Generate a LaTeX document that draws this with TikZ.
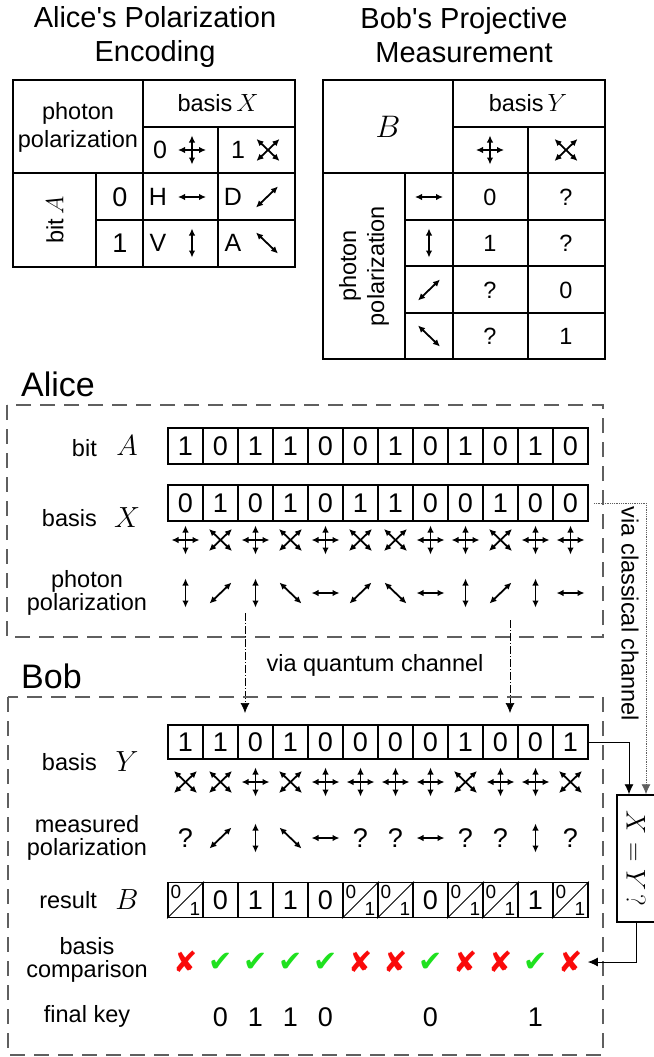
\documentclass[tikz,border=0pt]{standalone}
\usepackage{fontspec}
\setmainfont{Liberation Sans}
\newfontfamily\dingfont{DejaVu Sans}
\usetikzlibrary{arrows.meta}
\definecolor{okgreen}{RGB}{30,225,30}
\definecolor{nored}{RGB}{250,10,10}
\definecolor{framegray}{RGB}{95,95,95}
\newcommand\yesmark{\textcolor{okgreen}{✔}}
\newcommand\nomark{\textcolor{nored}{✘}}

\begin{document}
\begin{tikzpicture}[x=1pt, y=-1pt,
	every node/.style={font=\fontsize{23.5}{23}\selectfont, inner sep=0pt},
	tab/.style={line width=1.6pt},
	tabtxt/.style={align=center, font=\fontsize{23.5}{28}\selectfont},
	val/.style={font=\fontsize{25}{25}\selectfont},
	big/.style={font=\fontsize{27}{27}\selectfont},
	cell/.style={draw, line width=1.8pt, minimum width=35pt, minimum height=36pt, big},
	mth/.style={font=\fontsize{24.88}{25}\selectfont, scale=1.17},
	lbl/.style={align=center},
	title/.style={align=center, font=\fontsize{29}{34}\selectfont},
	party/.style={anchor=west, font=\fontsize{34}{34}\selectfont},
	small/.style={font=\fontsize{19}{19}\selectfont},
	cmp/.style={font=\dingfont\fontsize{29}{29}\selectfont},
	frame/.style={framegray, line width=1.2pt, dash pattern=on 15pt off 9pt},
	pol/.style={line width=1.8pt, {Latex[length=7pt,width=6.5pt]}-{Latex[length=7pt,width=6.5pt]}},
	hp/.pic={\draw[pol] (-14,0) -- (14,0);},
	vp/.pic={\draw[pol] (0,-14.5) -- (0,14.5);},
	dp/.pic={\draw[pol] (-11,10.5) -- (11,-10.5);},
	ap/.pic={\draw[pol] (-11,-10.5) -- (11,10.5);},
	rb/.pic={\draw[pol] (-14,0) -- (14,0); \draw[pol] (0,-14.5) -- (0,14.5);},
	db/.pic={\draw[pol] (-11.5,11) -- (11.5,-11); \draw[pol] (-11.5,-11) -- (11.5,11);},
	qp/.pic={\node[big] {?};},
	quantum/.style={-{Latex[length=10pt,width=9pt]}, line width=0.7pt, dash pattern=on 8pt off 2pt on 1pt off 2pt},
	classical/.style={-{Latex[length=10pt,width=9pt]}, line width=0.8pt, densely dotted, framegray},
	link/.style={-{Latex[length=10pt,width=9pt]}, line width=0.9pt}
	]
	\useasboundingbox (0,0) rectangle (653,1057);
	
	% Alice's table
	\node[title] (ttlA) at (155,37) {Alice\textquotesingle s Polarization\\Encoding};
	\draw[tab] (13,80) rectangle (295,267);
	\draw[tab] (143,80) -- (143,267);
	\draw[tab] (143,127) -- (295,127);
	\draw[tab] (13,173) -- (295,173);
	\draw[tab] (96,173) -- (96,267);
	\draw[tab] (96,220) -- (295,220);
	\draw[tab] (218,127) -- (218,267);
	\node[tabtxt] (taPol) at (78,127) {photon\\polarization};
	\node (taBasis) at (218,103) {basis\,$X$};
	\node[val] (taB0) at (160,150) {0}; \pic at (192,150) {rb};
	\node[val] (taB1) at (238,150) {1}; \pic at (268,150) {db};
	\node[rotate=90] (taBit) at (55,220) {bit\,$A$};
	\node[big] (taA0) at (120,197) {0};
	\node[big] (taA1) at (120,243) {1};
	\node[val] (taH) at (158,197) {H}; \pic at (192,197) {hp};
	\node[val] (taD) at (233,197) {D}; \pic at (267,197) {dp};
	\node[val] (taV) at (158,243) {V}; \pic at (192,243) {vp};
	\node[val] (taA) at (233,243) {A}; \pic at (267,243) {ap};
	
	% Bob's table
	\node[title] (ttlB) at (464,35) {Bob\textquotesingle s Projective\\Measurement};
	\draw[tab] (323,80) rectangle (605,359);
	\draw[tab] (453,80) -- (453,359);
	\draw[tab] (453,127) -- (605,127);
	\draw[tab] (323,173) -- (605,173);
	\draw[tab] (405,173) -- (405,359);
	\draw[tab] (528,127) -- (528,359);
	\foreach \r in {220,266,313}
		\draw[tab] (405,\r) -- (605,\r);
	\node[mth, scale=1.07] (tbB) at (388,127) {$B$};
	\node (tbBasis) at (528,103) {basis\,$Y$};
	\pic at (490,150) {rb};
	\pic at (566,150) {db};
	\node[tabtxt, rotate=90] (tbPol) at (364,266) {photon\\polarization};
	\pic at (429,197) {hp}; \node (tb00) at (490,197) {0}; \node (tb01) at (566,197) {?};
	\pic at (429,243) {vp}; \node (tb10) at (490,243) {1}; \node (tb11) at (566,243) {?};
	\pic at (429,290) {dp}; \node (tb20) at (490,290) {?}; \node (tb21) at (566,290) {0};
	\pic at (429,336) {ap}; \node (tb30) at (490,336) {?}; \node (tb31) at (566,336) {1};
	
	% Alice
	\node[party] (alice) at (21,384) {Alice};
	\draw[frame] (7,405) rectangle (603,637);
	\node[anchor=east] (lA) at (97,448) {bit}; \node[mth] at (127,446) {$A$};
	\node[anchor=east] (lX) at (97,518) {basis}; \node[mth] at (127,518) {$X$};
	\node[lbl] (lP) at (87,593) {photon\\polarization};
	\foreach \va/\vx [count=\i from 0] in {1/0,0/1,1/0,1/1,0/0,0/1,1/1,0/0,1/0,0/1,1/0,0/0}{
		\node[cell] (a\i) at ({185.5+35*\i},446) {\va};
		\node[cell] (x\i) at ({185.5+35*\i},503) {\vx};
		\ifnum\vx=0
			\pic at ({185.5+35*\i},540) {rb};
			\ifnum\va=0 \pic at ({185.5+35*\i},593) {hp}; \else \pic at ({185.5+35*\i},593) {vp}; \fi
		\else
			\pic at ({185.5+35*\i},540) {db};
			\ifnum\va=0 \pic at ({185.5+35*\i},593) {dp}; \else \pic at ({185.5+35*\i},593) {ap}; \fi
		\fi
	}
	
	% quantum channel
	\coordinate (q1a) at (245,613); \coordinate (q1b) at (245,713);
	\coordinate (q2a) at (510,620); \coordinate (q2b) at (510,713);
	\draw[quantum] (q1a) -- (q1b);
	\draw[quantum] (q2a) -- (q2b);
	\node (qlbl) at (375,665) {via quantum channel};
	
	% Bob
	\node[party] (bob) at (21,676) {Bob};
	\draw[frame] (8,697) rectangle (603,1055);
	\node[anchor=east] (lY) at (97,762) {basis}; \node[mth] at (127,762) {$Y$};
	\node[lbl] (lM) at (87,838) {measured\\polarization};
	\node[anchor=east] (lB) at (97,900) {result}; \node[mth] at (127,900) {$B$};
	\node[lbl] (lC) at (87,960) {basis\\comparison};
	\node[lbl] (lK) at (87,1016) {final key};
	\foreach \vy/\vm [count=\i from 0] in {1/qp,1/dp,0/vp,1/ap,0/hp,0/qp,0/qp,0/hp,1/qp,0/qp,0/vp,1/qp}{
		\node[cell, minimum height=34pt] (y\i) at ({185.5+35*\i},742) {\vy};
		\ifnum\vy=0 \pic at ({185.5+35*\i},782) {rb}; \else \pic at ({185.5+35*\i},782) {db}; \fi
		\pic at ({185.5+35*\i},838) {\vm};
	}
	\foreach \vb [count=\i from 0] in {{},0,1,1,0,{},{},0,{},{},1,{}}
		\node[cell, minimum height=35pt] (b\i) at ({185.5+35*\i},900) {\vb};
	\foreach \i in {0,5,6,8,9,11}{
		\draw[line width=0.8pt] (b\i.south west) -- (b\i.north east);
		\node[small] at ([shift={(-9.5,-8)}]b\i.center) {0};
		\node[small] at ([shift={(9.5,8.5)}]b\i.center) {1};
	}
	\foreach \vc [count=\i from 0] in {\nomark,\yesmark,\yesmark,\yesmark,\yesmark,\nomark,\nomark,\yesmark,\nomark,\nomark,\yesmark,\nomark}
		\node[cmp] (c\i) at ({185.5+35*\i},962) {\vc};
	\foreach \i/\k in {1/0,2/1,3/1,4/0,7/0,10/1}
		\node[big] (k\i) at ({185.5+35*\i},1017) {\k};
	
	% classical channel and basis check
	\node[draw, line width=1.5pt, minimum width=38pt, minimum height=127pt] (chk) at (636,858.5) {};
	\node[rotate=-90, font=\fontsize{24.88}{25}\selectfont, scale=1.09] (chkT) at (chk.center) {$X=Y\,?$};
	\draw[link] (y11.east) -| ([xshift=-7pt]chk.north);
	\draw[classical] ([xshift=5pt]x11.east) -| ([xshift=10pt]chk.north);
	\node[rotate=-90] (clbl) at (630,614) {via classical channel};
	\draw[link] (chk.south) |- ([xshift=5pt]c11.east);
\end{tikzpicture}
\end{document}
